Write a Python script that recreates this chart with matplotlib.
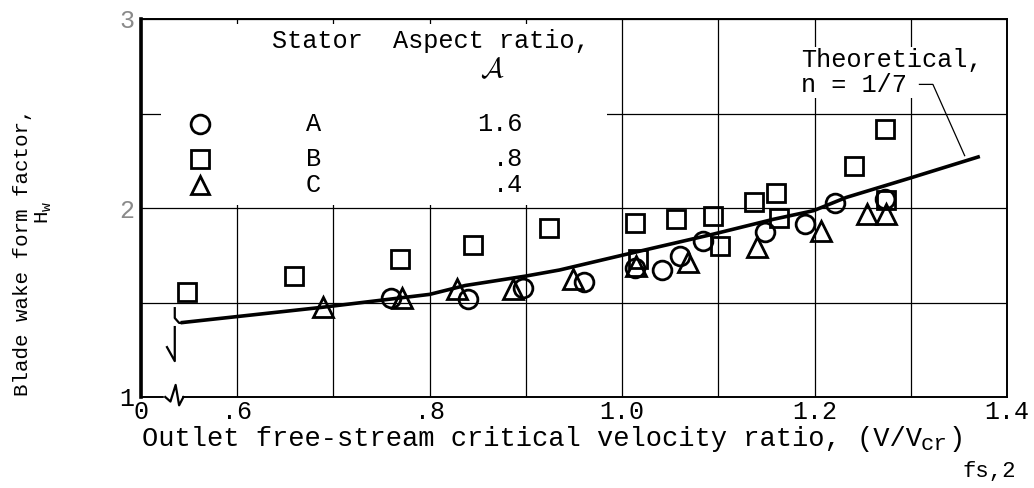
import matplotlib
matplotlib.use("Agg")
import matplotlib.pyplot as plt
from matplotlib.patches import Rectangle

plt.rcParams["font.family"] = ["Liberation Mono", "DejaVu Sans Mono"]
plt.rcParams["mathtext.fontset"] = "custom"
plt.rcParams["mathtext.rm"] = "Liberation Mono"
plt.rcParams["mathtext.it"] = "Liberation Mono"

# stator A, aspect ratio 1.6 (circles)
a_x = [0.760, 0.840, 0.897, 0.960, 1.013, 1.041, 1.060, 1.084, 1.148, 1.190, 1.221, 1.273]
a_y = [1.525, 1.520, 1.578, 1.608, 1.684, 1.674, 1.746, 1.826, 1.872, 1.915, 2.025, 2.048]

# stator B, aspect ratio .8 (squares)
b_x = [0.548, 0.659, 0.769, 0.845, 0.924, 1.013, 1.016, 1.056, 1.094, 1.102,
       1.137, 1.160, 1.163, 1.241, 1.273, 1.274]
b_y = [1.553, 1.640, 1.729, 1.803, 1.892, 1.920, 1.730, 1.940, 1.958, 1.800,
       2.030, 2.080, 1.947, 2.220, 2.420, 2.040]

# stator C, aspect ratio .4 (triangles)
c_x = [0.689, 0.771, 0.828, 0.887, 0.949, 1.014, 1.068, 1.140, 1.207, 1.255, 1.274]
c_y = [1.477, 1.525, 1.569, 1.573, 1.624, 1.695, 1.716, 1.795, 1.879, 1.968, 1.968]

# theoretical curve, n = 1/7
theory_x = [0.543, 0.689, 0.800, 0.837, 0.900, 0.935, 1.000, 1.095, 1.157, 1.199, 1.233, 1.299, 1.370]
theory_y = [1.394, 1.475, 1.543, 1.590, 1.640, 1.672, 1.750, 1.862, 1.940, 1.986, 2.056, 2.158, 2.270]

# leader from the label to the curve
leader_x = [1.309, 1.323, 1.356]
leader_y = [2.654, 2.654, 2.277]

stators = ["A", "B", "C"]
aspect_ratios = ["1.6", ".8", ".4"]
markers = ["o", "s", "^"]

x_ticks = [0.5, 0.6, 0.8, 1.0, 1.2, 1.4]
x_ticklabels = ["0", ".6", ".8", "1.0", "1.2", "1.4"]
x_minor = [0.7, 0.9, 1.1, 1.3]
y_ticks = [1, 2, 3]
y_ticklabels = ["1", "2", "3"]
y_minor = [1.5, 2.5]

W, H = 1034, 488
fig = plt.figure(figsize=(W / 100, H / 100), dpi=100)
ax = fig.add_axes([141 / W, 1 - 397 / H, 866 / W, 378 / H])
ax.set_xlim(0.5, 1.4)
ax.set_ylim(1, 3)

ax.set_xticks(x_ticks)
ax.set_xticklabels(x_ticklabels)
ax.set_xticks(x_minor, minor=True)
ax.set_yticks(y_ticks)
ax.set_yticklabels(y_ticklabels)
ax.set_yticks(y_minor, minor=True)
ax.tick_params(which="both", length=0)
ax.tick_params(axis="x", labelsize=18, pad=2)
ax.tick_params(axis="y", labelsize=18, pad=5)
for lbl in ax.get_yticklabels()[1:]:
    lbl.set_color("#8a8a8a")

ax.set_axisbelow(True)
ax.grid(which="both", color="black", linewidth=0.9)
for side in ["top", "right", "bottom"]:
    ax.spines[side].set_linewidth(1.4)
ax.spines["left"].set_linewidth(2.6)

# blank area behind the key, leaving the short grid stubs at the edges
ax.add_patch(Rectangle((0.023, 0.508), 0.515, 0.479, transform=ax.transAxes,
                       facecolor="white", edgecolor="none", zorder=1))

ax.plot(theory_x, theory_y, color="black", linewidth=2.6, zorder=3)
ax.plot(leader_x, leader_y, color="black", linewidth=0.9, zorder=5)

style = dict(linestyle="none", markerfacecolor="none", markeredgecolor="black",
             markeredgewidth=2.0, zorder=4)
ax.plot(a_x, a_y, marker="o", markersize=13.5, **style)
ax.plot(b_x, b_y, marker="s", markersize=12.5, **style)
ax.plot(c_x, c_y, marker="^", markersize=14, **style)

# axis breaks
ax.plot([0.039, 0.039, 0.044, 0.048], [0.235, 0.209, 0.196, 0.196],
        transform=ax.transAxes, color="black", linewidth=1.6, clip_on=False, zorder=5)
ax.plot([0.030, 0.039, 0.039], [0.132, 0.095, 0.185],
        transform=ax.transAxes, color="black", linewidth=1.6, clip_on=False, zorder=5)
ax.plot([0.028, 0.045], [0.0, 0.0], transform=ax.transAxes, color="white",
        linewidth=2.5, clip_on=False, zorder=5)
ax.plot([0.028, 0.034, 0.040, 0.044, 0.049], [0.0, -0.012, 0.032, -0.022, 0.0],
        transform=ax.transAxes, color="black", linewidth=1.6, clip_on=False, zorder=6)

# key
fs = 18.2
ax.text(0.151, 0.942, "Stator  Aspect ratio,", transform=ax.transAxes,
        fontsize=fs, ha="left", va="center", zorder=6)
ax.text(0.406, 0.865, r"$\mathcal{A}$", transform=ax.transAxes, fontsize=20,
        math_fontfamily="cm", ha="center", va="center", zorder=6)
key_rows = [0.721, 0.629, 0.560]
for stator, ar, mk, ky in zip(stators, aspect_ratios, markers, key_rows):
    ax.plot([0.068], [ky], transform=ax.transAxes, marker=mk,
            markersize=12.5 if mk == "s" else 13.5, **style)
    ax.text(0.199, ky, stator, transform=ax.transAxes, fontsize=fs,
            ha="center", va="center", zorder=6)
    ax.text(0.441, ky, ar, transform=ax.transAxes, fontsize=fs,
            ha="right", va="center", zorder=6)

ax.text(0.762, 0.859, "Theoretical,\nn = 1/7", transform=ax.transAxes,
        fontsize=fs, ha="left", va="center", linespacing=1.05, zorder=4,
        bbox=dict(facecolor="white", edgecolor="none", pad=1))

# axis titles
fig.text(142 / W, 1 - 446 / H, "Outlet free-stream critical velocity ratio, (V/V",
         fontsize=19.5, ha="left", va="baseline")
fig.text(921 / W, 1 - 450 / H, "cr", fontsize=16, ha="left", va="baseline")
fig.text(949 / W, 1 - 446 / H, ")", fontsize=19.5, ha="left", va="baseline")
fig.text(963 / W, 1 - 477 / H, "fs,2", fontsize=16, ha="left", va="baseline")

fig.text(23 / W, 1 - 252 / H, "Blade wake form factor,", rotation=90,
         fontsize=15, ha="center", va="center")
fig.text(44 / W, 1 - 212 / H, r"H$_{\mathrm{w}}$", rotation=90,
         fontsize=15, ha="center", va="center")

fig.savefig("out.png", dpi=100)
